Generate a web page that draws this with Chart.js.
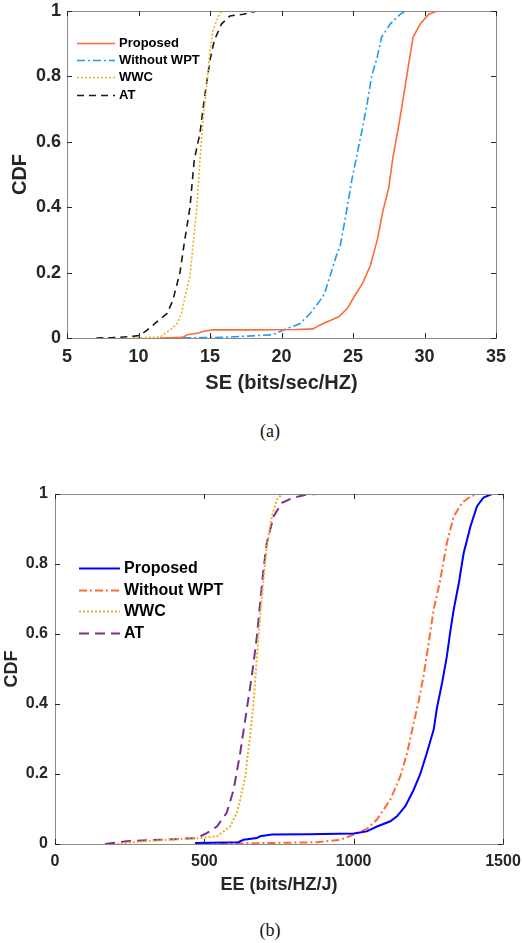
<!DOCTYPE html>
<html lang="en">

<head>
    <meta charset="UTF-8">
    <title>CDF of SE and EE</title>
    <script src="https://cdn.jsdelivr.net/npm/chart.js"></script>
    <style>
        body { margin: 0; background: #fff; width: 522px; height: 943px; position: relative; overflow: hidden; }
        .box { position: absolute; left: 0; width: 522px; }
        .cap { position: absolute; width: 100px; text-align: center; font: 18px "Liberation Serif", "Times New Roman", serif; color: #111; }
    </style>
</head>

<body>
    <div class="box" style="top:0;height:400px"><canvas id="se-chart"></canvas></div>
    <div class="cap" style="left:220px;top:421px">(a)</div>
    <div class="box" style="top:470px;height:430px"><canvas id="ee-chart"></canvas></div>
    <div class="cap" style="left:220px;top:920px">(b)</div>

    <script>
        // (a) SE curves
        var seXTicks = [5, 10, 15, 20, 25, 30, 35];
        var cdfTicks = [0, 0.2, 0.4, 0.6, 0.8, 1];

        var seProposedX = [11.5, 13.1, 13.4, 14.2, 14.5, 15.2, 18, 21, 22.2, 22.7, 23.2, 24.0, 24.6, 25.0, 25.7, 26.2, 26.7, 27.1, 27.5, 27.8, 28.2, 28.5, 28.9, 29.2, 29.7, 30.3, 30.9];
        var seProposedY = [0, 0.002, 0.01, 0.015, 0.02, 0.025, 0.025, 0.026, 0.028, 0.04, 0.05, 0.065, 0.09, 0.12, 0.17, 0.22, 0.3, 0.39, 0.46, 0.555, 0.65, 0.73, 0.84, 0.92, 0.96, 0.99, 1];

        var seNoWptX = [12, 16, 19.4, 20.1, 21.3, 22.0, 22.7, 23.0, 23.4, 23.9, 24.1, 24.6, 24.9, 25.3, 25.7, 26.0, 26.3, 26.7, 27.0, 27.6, 28.3, 28.65];
        var seNoWptY = [0, 0.002, 0.01, 0.024, 0.044, 0.075, 0.115, 0.135, 0.19, 0.26, 0.28, 0.4, 0.48, 0.565, 0.65, 0.72, 0.8, 0.86, 0.92, 0.96, 0.99, 1];

        var seWwcX = [9.6, 11.5, 12.2, 12.7, 13.0, 13.2, 13.6, 13.8, 14.06, 14.3, 14.5, 14.76, 15.0, 15.2, 15.6, 15.8];
        var seWwcY = [0, 0.003, 0.024, 0.044, 0.075, 0.115, 0.19, 0.28, 0.39, 0.545, 0.66, 0.77, 0.88, 0.94, 0.985, 1];

        var seAtX = [7.05, 8.2, 9.6, 10.1, 10.6, 11.3, 12.0, 12.4, 12.9, 13.2, 13.6, 13.9, 14.3, 14.6, 15.0, 15.3, 15.8, 16.4, 17.3, 18.3];
        var seAtY = [0, 0.001, 0.005, 0.008, 0.024, 0.05, 0.075, 0.115, 0.2, 0.29, 0.4, 0.545, 0.627, 0.73, 0.85, 0.91, 0.96, 0.985, 0.99, 1];

        // (b) EE curves
        var eeXTicks = [0, 500, 1000, 1500];

        var eeProposedX = [469, 614, 631, 676, 687, 726, 850, 1000, 1044, 1078, 1123, 1145, 1173, 1201, 1223, 1245, 1268, 1279, 1296, 1312, 1324, 1335, 1352, 1368, 1391, 1413, 1435, 1463];
        var eeProposedY = [0.003, 0.005, 0.012, 0.017, 0.022, 0.027, 0.028, 0.03, 0.036, 0.05, 0.065, 0.079, 0.108, 0.155, 0.2, 0.26, 0.327, 0.39, 0.46, 0.536, 0.61, 0.67, 0.745, 0.83, 0.907, 0.965, 0.99, 1];

        var eeNoWptX = [497, 877, 955, 1000, 1044, 1078, 1123, 1156, 1179, 1201, 1218, 1234, 1251, 1268, 1290, 1312, 1335, 1363, 1391, 1418];
        var eeNoWptY = [0, 0.005, 0.012, 0.027, 0.043, 0.07, 0.127, 0.193, 0.26, 0.346, 0.41, 0.48, 0.574, 0.67, 0.755, 0.86, 0.936, 0.975, 0.993, 1];

        var eeWwcX = [207, 262, 374, 486, 542, 564, 586, 609, 620, 637, 653, 665, 676, 687, 698, 709, 726, 743, 760];
        var eeWwcY = [0, 0.005, 0.012, 0.017, 0.022, 0.036, 0.05, 0.089, 0.127, 0.193, 0.308, 0.403, 0.536, 0.65, 0.755, 0.85, 0.936, 0.984, 1];

        var eeAtX = [168, 240, 352, 475, 508, 542, 575, 598, 620, 642, 659, 676, 687, 698, 709, 732, 760, 799, 843, 877];
        var eeAtY = [0, 0.008, 0.012, 0.017, 0.031, 0.05, 0.089, 0.155, 0.26, 0.384, 0.48, 0.593, 0.689, 0.784, 0.86, 0.936, 0.975, 0.99, 0.998, 1];

        var FONT = '"Liberation Sans", Arial, sans-serif';
        var INK = '#262626';

        function pts(xs, ys) {
            return xs.map(function (x, i) { return { x: x, y: ys[i] }; });
        }

        function series(label, xs, ys, color, dash, width) {
            return {
                label: label,
                data: pts(xs, ys),
                borderColor: color,
                borderDash: dash,
                borderWidth: width,
                pointRadius: 0,
                tension: 0,
                fill: false
            };
        }

        // box around the plot, inward ticks and the legend inside the axes
        var matlabAxes = {
            id: 'matlabAxes',
            afterDraw: function (chart, args, opts) {
                var ctx = chart.ctx, a = chart.chartArea;
                var xs = chart.scales.x, ys = chart.scales.y;
                ctx.save();
                ctx.strokeStyle = '#8a8a8a';
                ctx.lineWidth = 1;
                ctx.strokeRect(Math.round(a.left) + 0.5, Math.round(a.top) + 0.5,
                    Math.round(a.right - a.left), Math.round(a.bottom - a.top));
                ctx.strokeStyle = INK;
                ctx.beginPath();
                xs.ticks.forEach(function (t) {
                    var p = Math.round(xs.getPixelForValue(t.value)) + 0.5;
                    ctx.moveTo(p, a.bottom); ctx.lineTo(p, a.bottom - 5);
                    ctx.moveTo(p, a.top); ctx.lineTo(p, a.top + 5);
                });
                ys.ticks.forEach(function (t) {
                    var p = Math.round(ys.getPixelForValue(t.value)) + 0.5;
                    ctx.moveTo(a.left, p); ctx.lineTo(a.left + 5, p);
                    ctx.moveTo(a.right, p); ctx.lineTo(a.right - 5, p);
                });
                ctx.stroke();

                // legend
                var L = opts;
                ctx.font = 'bold ' + L.size + 'px ' + FONT;
                ctx.textBaseline = 'middle';
                ctx.fillStyle = '#000';
                chart.data.datasets.forEach(function (ds, i) {
                    var y = Math.round(a.top + L.top + i * L.gap) + 0.5;
                    ctx.beginPath();
                    ctx.strokeStyle = ds.borderColor;
                    ctx.lineWidth = ds.borderWidth;
                    ctx.setLineDash(ds.borderDash || []);
                    ctx.moveTo(a.left + L.x0, y);
                    ctx.lineTo(a.left + L.x1, y);
                    ctx.stroke();
                    ctx.fillText(ds.label, a.left + L.tx, y);
                });
                ctx.restore();
            }
        };

        function makeChart(id, datasets, cfg) {
            var ctx = document.getElementById(id).getContext('2d');
            return new Chart(ctx, {
                type: 'line',
                data: { datasets: datasets },
                plugins: [matlabAxes],
                options: {
                    responsive: true,
                    maintainAspectRatio: false,
                    animation: false,
                    layout: { padding: { left: 0, top: cfg.padTop, right: cfg.padRight, bottom: 0 } },
                    plugins: {
                        legend: { display: false },
                        tooltip: { enabled: false },
                        matlabAxes: cfg.legend
                    },
                    scales: {
                        x: {
                            type: 'linear',
                            min: cfg.xTicks[0],
                            max: cfg.xTicks[cfg.xTicks.length - 1],
                            afterBuildTicks: function (s) { s.ticks = cfg.xTicks.map(function (v) { return { value: v }; }); },
                            afterFit: function (s) { s.height = cfg.xH; s.paddingLeft = 0; s.paddingRight = 0; },
                            grid: { display: false, drawTicks: false },
                            border: { display: false },
                            ticks: {
                                padding: cfg.xPad,
                                color: INK,
                                maxRotation: 0,
                                font: { family: FONT, size: cfg.tickSize, weight: 'bold' },
                                callback: function (v) { return String(v); }
                            },
                            title: {
                                display: true,
                                text: cfg.xTitle,
                                color: INK,
                                padding: cfg.xTitlePad,
                                font: { family: FONT, size: cfg.titleSize, weight: 'bold' }
                            }
                        },
                        y: {
                            min: 0,
                            max: 1,
                            afterBuildTicks: function (s) { s.ticks = cdfTicks.map(function (v) { return { value: v }; }); },
                            afterFit: function (s) { s.width = cfg.yW; s.paddingTop = 0; s.paddingBottom = 0; },
                            grid: { display: false, drawTicks: false },
                            border: { display: false },
                            ticks: {
                                padding: cfg.yPad,
                                color: INK,
                                font: { family: FONT, size: cfg.tickSize, weight: 'bold' },
                                callback: function (v) { return String(v); }
                            },
                            title: {
                                display: true,
                                text: 'CDF',
                                color: INK,
                                padding: cfg.yTitlePad,
                                font: { family: FONT, size: cfg.yTitleSize, weight: 'bold' }
                            }
                        }
                    }
                }
            });
        }

        makeChart('se-chart', [
            series('Proposed', seProposedX, seProposedY, '#FF6B35', [], 1.6),
            series('Without WPT', seNoWptX, seNoWptY, '#1E9BF5', [8, 3, 2, 3], 1.6),
            series('WWC', seWwcX, seWwcY, '#EDB120', [2, 2], 1.6),
            series('AT', seAtX, seAtY, '#1a1a1a', [7, 5], 1.6)
        ], {
            xTicks: seXTicks, padTop: 11, padRight: 26, xH: 62, yW: 67,
            xPad: 8, yPad: 6, tickSize: 18, titleSize: 20, yTitleSize: 20,
            xTitle: 'SE (bits/sec/HZ)', xTitlePad: 5, yTitlePad: 8,
            legend: { size: 13, top: 32, gap: 17.2, x0: 10, x1: 48, tx: 52 }
        });

        makeChart('ee-chart', [
            series('Proposed', eeProposedX, eeProposedY, '#0000FF', [], 2),
            series('Without WPT', eeNoWptX, eeNoWptY, '#FF6B35', [8, 3, 2, 3], 2),
            series('WWC', eeWwcX, eeWwcY, '#EDB120', [2, 2], 2),
            series('AT', eeAtX, eeAtY, '#7E2F8E', [10, 6], 2)
        ], {
            xTicks: eeXTicks, padTop: 24, padRight: 19, xH: 56, yW: 55,
            xPad: 8, yPad: 7, tickSize: 16, titleSize: 18, yTitleSize: 18,
            xTitle: 'EE (bits/HZ/J)', xTitlePad: 4, yTitlePad: 1,
            legend: { size: 16, top: 74, gap: 21.7, x0: 24, x1: 65, tx: 69 }
        });
    </script>
</body>

</html>
